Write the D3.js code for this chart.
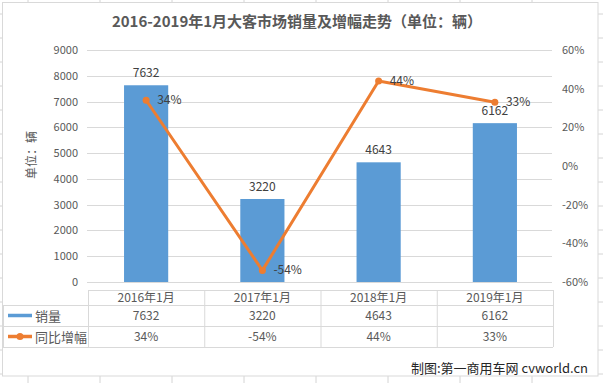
<!DOCTYPE html>
<html>
<head>
<meta charset="utf-8">
<script src="https://cdn.jsdelivr.net/npm/d3@7/dist/d3.min.js"></script>
<style>
body { margin: 0; background: #fff; }
svg { display: block; font-family: "Noto Sans CJK SC", sans-serif; }
</style>
</head>
<body>
<svg id="chart"></svg>
<script>
// DATA
var categories = ["2016年1月", "2017年1月", "2018年1月", "2019年1月"];
var sales = [7632, 3220, 4643, 6162];
var growth = [0.34, -0.54, 0.44, 0.33];
var leftTicks = [0, 1000, 2000, 3000, 4000, 5000, 6000, 7000, 8000, 9000];
var rightTicks = [-0.6, -0.4, -0.2, 0, 0.2, 0.4, 0.6];
var seriesNames = ["销量", "同比增幅"];

var W = 603, H = 383;
var textColor = "#595959";
var gridColor = "#d9d9d9";
var barColor = "#5b9bd5";
var lineColor = "#ed7d31";

// percent with a plain hyphen, like the spreadsheet
var pct = (d)=>Math.round(d * 100) + "%";

var svg = d3.select("#chart").attr("width", W).attr("height", H);

// spreadsheet background
var sheet = svg.append("g");
d3.range(28, W, 72).forEach(function(x) {
	sheet.append("line").attr("x1", x).attr("x2", x).attr("y1", 0).attr("y2", H)
	.attr("stroke", "#d4d4d4");
});
d3.range(14, H, 24).forEach(function(y) {
	sheet.append("line").attr("x1", 0).attr("x2", W).attr("y1", y).attr("y2", y)
	.attr("stroke", "#d4d4d4");
});

// chart area
svg.append("rect")
.attr("x", 2.5).attr("y", 2.5).attr("width", 595.5).attr("height", 373.5)
.attr("fill", "#fff").attr("stroke", "#d9d9d9");

// title
svg.append("text")
.attr("x", 297).attr("y", 27)
.attr("text-anchor", "middle")
.attr("font-size", 15).attr("font-weight", "bold")
.attr("fill", textColor)
.text("2016-2019年1月大客市场销量及增幅走势（单位：辆）");

// SCALES
var x = d3.scaleBand().domain(categories).range([88, 553]);
var yL = d3.scaleLinear().domain([0, 9000]).range([282, 50]);
var yR = d3.scaleLinear().domain([-0.6, 0.6]).range([282, 50]);

// grid
svg.append("g").selectAll("line").data(leftTicks).enter().append("line")
.attr("x1", 87).attr("x2", 552)
.attr("y1", (d)=>Math.round(yL(d)) + 0.5).attr("y2", (d)=>Math.round(yL(d)) + 0.5)
.attr("stroke", gridColor);

// axes
var axisL = svg.append("g").attr("transform", "translate(78,0)")
.call(d3.axisLeft(yL).tickValues(leftTicks).tickSize(0).tickPadding(0).tickFormat(d3.format("d")));
var axisR = svg.append("g").attr("transform", "translate(562,0)")
.call(d3.axisRight(yR).tickValues(rightTicks).tickSize(0).tickPadding(0).tickFormat(pct));
[axisL, axisR].forEach(function(a) {
	a.select(".domain").remove();
	a.selectAll("text").attr("fill", textColor).attr("font-size", 11)
	.attr("font-family", "\"Noto Sans CJK SC\", sans-serif");
});

// y title
svg.append("text")
.attr("transform", "translate(36,155) rotate(-90)")
.attr("text-anchor", "middle")
.attr("font-size", 12).attr("fill", textColor)
.text("单位：辆");

// bars
var bw = x.bandwidth() * 0.38;
svg.append("g").selectAll("rect").data(sales).enter().append("rect")
.attr("x", (d, i)=>x(categories[i]) + x.bandwidth() / 2 - bw / 2)
.attr("width", bw)
.attr("y", (d)=>yL(d))
.attr("height", (d)=>yL(0) - yL(d))
.attr("fill", barColor);

svg.append("g").selectAll("text").data(sales).enter().append("text")
.attr("x", (d, i)=>x(categories[i]) + x.bandwidth() / 2)
.attr("y", (d)=>yL(d) - 8)
.attr("text-anchor", "middle")
.attr("font-size", 12).attr("fill", "#404040")
.text((d)=>d);

// line
var line = d3.line()
.x((d, i)=>x(categories[i]) + x.bandwidth() / 2)
.y((d)=>yR(d));

svg.append("path").datum(growth)
.attr("d", line)
.attr("fill", "none")
.attr("stroke", lineColor)
.attr("stroke-width", 3)
.attr("stroke-linejoin", "round");

svg.append("g").selectAll("circle").data(growth).enter().append("circle")
.attr("cx", (d, i)=>x(categories[i]) + x.bandwidth() / 2)
.attr("cy", (d)=>yR(d))
.attr("r", 3.5)
.attr("fill", lineColor);

svg.append("g").selectAll("text").data(growth).enter().append("text")
.attr("x", (d, i)=>x(categories[i]) + x.bandwidth() / 2 + 11)
.attr("y", (d)=>yR(d) + 4)
.attr("font-size", 12).attr("fill", "#404040")
.text(pct);

// DATA TABLE
var table = svg.append("g");
var rowY = [290, 305, 326, 347];
var colX = [3, 88].concat(categories.map((c)=>x(c) + x.bandwidth()));

function hline(x1, x2, y) {
	table.append("line").attr("x1", x1).attr("x2", x2)
	.attr("y1", y + 0.5).attr("y2", y + 0.5).attr("stroke", gridColor);
}
function vline(xx, y1, y2) {
	table.append("line").attr("x1", xx + 0.5).attr("x2", xx + 0.5)
	.attr("y1", y1).attr("y2", y2).attr("stroke", gridColor);
}
hline(88, 553, rowY[0]);
hline(3, 553, rowY[1]);
hline(3, 553, rowY[2]);
hline(3, 553, rowY[3]);
vline(3, rowY[1], rowY[3]);
colX.slice(1).forEach((xx)=>vline(xx, rowY[0], rowY[3]));

var rows = [categories, sales.map(String), growth.map(pct)];
rows.forEach(function(r, ri) {
	table.selectAll(".row" + ri).data(r).enter().append("text")
	.attr("x", (d, i)=>x(categories[i]) + x.bandwidth() / 2)
	.attr("y", (rowY[ri] + rowY[ri + 1]) / 2 + 4)
	.attr("text-anchor", "middle")
	.attr("font-size", 12).attr("fill", textColor)
	.text((d)=>d);
});

// legend keys in table
seriesNames.forEach(function(name, i) {
	var cy = (rowY[i + 1] + rowY[i + 2]) / 2;
	table.append("line").attr("x1", 8).attr("x2", 32).attr("y1", cy).attr("y2", cy)
	.attr("stroke", i === 0 ? barColor : lineColor).attr("stroke-width", 3.5);
	if (i === 1) table.append("circle").attr("cx", 20).attr("cy", cy).attr("r", 3.5).attr("fill", lineColor);
	table.append("text").attr("x", 35).attr("y", cy + 5)
	.attr("font-size", 13).attr("fill", textColor).text(name);
});

// footer
svg.append("text")
.attr("x", 588).attr("y", 373)
.attr("text-anchor", "end")
.attr("font-size", 13).attr("fill", "#262626")
.text("制图:第一商用车网 cvworld.cn");
</script>
</body>
</html>
